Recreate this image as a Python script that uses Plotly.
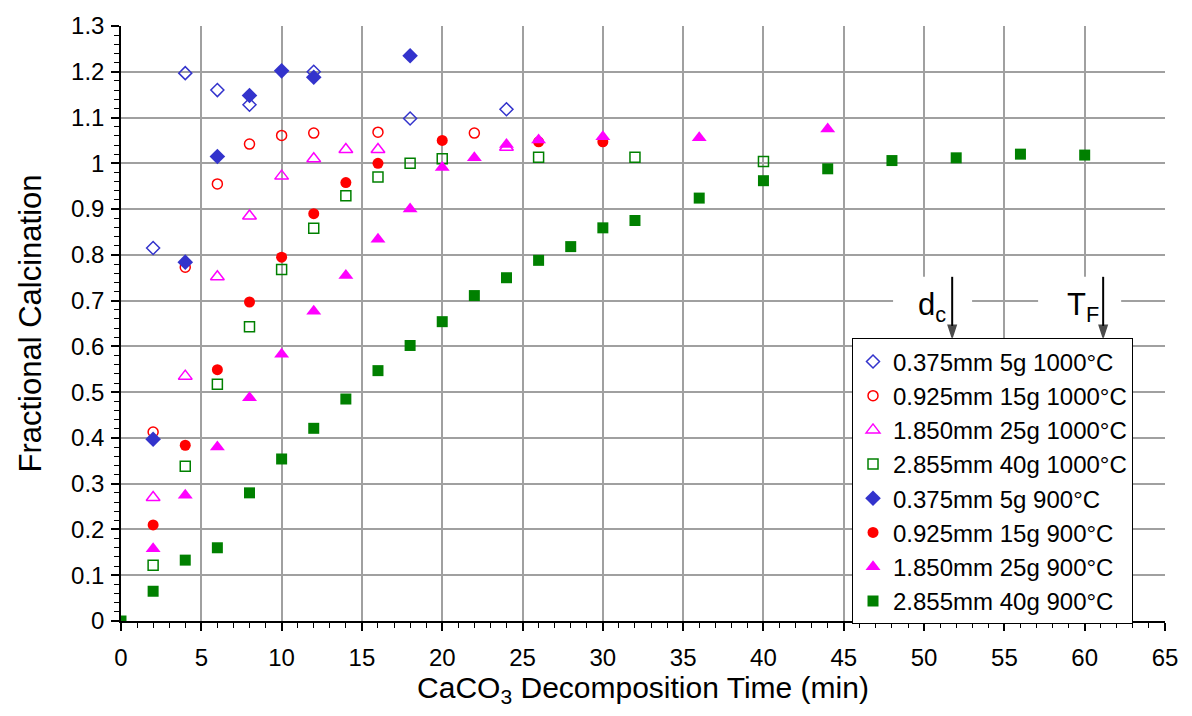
import plotly.graph_objects as go

# Fractional calcination vs CaCO3 decomposition time
t_a = [2, 4, 6, 8, 12, 18, 24]
f_a = [0.815, 1.197, 1.160, 1.128, 1.200, 1.098, 1.118]

t_b = [2, 4, 6, 8, 10, 12, 16, 22]
f_b = [0.413, 0.773, 0.955, 1.042, 1.061, 1.066, 1.068, 1.066]

t_c = [2, 4, 6, 8, 10, 12, 14, 16, 24]
f_c = [0.270, 0.535, 0.752, 0.885, 0.972, 1.010, 1.030, 1.030, 1.035]

t_d = [2, 4, 6, 8, 10, 12, 14, 16, 18, 20, 26, 32, 40]
f_d = [0.122, 0.338, 0.517, 0.643, 0.768, 0.858, 0.929, 0.970, 1.000, 1.010, 1.013, 1.013, 1.004]

t_e = [2, 4, 6, 8, 10, 12, 18]
f_e = [0.397, 0.784, 1.015, 1.148, 1.202, 1.188, 1.235]

t_f = [2, 4, 6, 8, 10, 12, 14, 16, 20, 26, 30]
f_f = [0.210, 0.384, 0.549, 0.697, 0.795, 0.890, 0.958, 1.000, 1.050, 1.047, 1.047]

t_g = [2, 4, 6, 8, 10, 12, 14, 16, 18, 20, 22, 24, 26, 30, 36, 44]
f_g = [0.158, 0.275, 0.380, 0.488, 0.583, 0.677, 0.755, 0.834, 0.900, 0.991, 1.012, 1.041, 1.051, 1.058, 1.056, 1.075]

t_h = [0, 2, 4, 6, 8, 10, 12, 14, 16, 18, 20, 22, 24, 26, 28, 30, 32, 36, 40, 44, 48, 52, 56, 60]
f_h = [0.0, 0.065, 0.133, 0.160, 0.280, 0.354, 0.421, 0.485, 0.547, 0.602, 0.654, 0.711, 0.750, 0.788,
       0.818, 0.859, 0.875, 0.924, 0.962, 0.988, 1.006, 1.012, 1.020, 1.018]

series_names = [
    "0.375mm 5g 1000°C", "0.925mm 15g 1000°C", "1.850mm 25g 1000°C", "2.855mm 40g 1000°C",
    "0.375mm 5g 900°C", "0.925mm 15g 900°C", "1.850mm 25g 900°C", "2.855mm 40g 900°C",
]

x_ticks = list(range(0, 70, 5))
y_ticks = [0, 0.1, 0.2, 0.3, 0.4, 0.5, 0.6, 0.7, 0.8, 0.9, 1.0, 1.1, 1.2, 1.3]
y_tick_text = ["0", "0.1", "0.2", "0.3", "0.4", "0.5", "0.6", "0.7", "0.8", "0.9", "1", "1.1", "1.2", "1.3"]

# arrows marking the characteristic times (time, arrow top, arrow tip)
marker_labels = ["d<sub>c</sub>", "T<sub>F</sub>"]
marker_times = [51.75, 61.15]
arrow_top = 0.752
arrow_tip = 0.617

BLUE = "#3333CC"
RED = "#FF0000"
MAGENTA = "#FF00FF"
GREEN = "#008000"
FONT = "Liberation Sans, Arial, sans-serif"

styles = [
    (t_a, f_a, "diamond-open", BLUE, 10),
    (t_b, f_b, "circle-open", RED, 10),
    (t_c, f_c, "triangle-up-open", MAGENTA, 12),
    (t_d, f_d, "square-open", GREEN, 10),
    (t_e, f_e, "diamond", BLUE, 12),
    (t_f, f_f, "circle", RED, 11),
    (t_g, f_g, "triangle-up", MAGENTA, 13),
    (t_h, f_h, "square", GREEN, 11),
]

fig = go.Figure()
for name, (xs, ys, sym, col, sz) in zip(series_names, styles):
    open_sym = sym.endswith("-open")
    fig.add_trace(go.Scatter(
        x=xs, y=ys, mode="markers", name=name,
        marker=dict(symbol=sym, color=col, size=sz,
                    line=dict(color=col, width=1.5 if open_sym else 0)),
    ))

# vertical arrows: a line with an arrowhead at its lower end
for tx in marker_times:
    fig.add_trace(go.Scatter(
        x=[tx, tx], y=[arrow_top, arrow_tip], mode="lines+markers",
        line=dict(color="black", width=2),
        marker=dict(symbol="arrow", angleref="previous", size=[0, 13], color="black",
                    line=dict(color="black", width=1.5), standoff=1),
        showlegend=False, hoverinfo="skip",
    ))

# white panels behind the labels hide the gridlines there
label_boxes = [(48.07, 52.99), (57.1, 62.27)]
for (x0, x1) in label_boxes:
    fig.add_shape(type="rect", xref="x", yref="y", x0=x0, x1=x1, y0=arrow_tip, y1=arrow_top,
                  fillcolor="white", line=dict(width=0), layer="between")

for lab, tx in zip(marker_labels, marker_times):
    fig.add_annotation(
        x=tx - 1.25, y=0.687, xref="x", yref="y", text=lab, showarrow=False,
        font=dict(family=FONT, size=31, color="black"),
    )

fig.update_layout(
    width=1192, height=716,
    margin=dict(l=121, r=27, t=23, b=95),
    paper_bgcolor="white", plot_bgcolor="white",
    font=dict(family=FONT, color="black"),
    showlegend=True,
    legend=dict(
        x=0.7002, y=0.475, xanchor="left", yanchor="top",
        bgcolor="white", bordercolor="black", borderwidth=1,
        font=dict(family=FONT, size=24, color="black"),
        tracegroupgap=0,
        itemsizing="trace",
    ),
    xaxis=dict(
        range=[0, 65], tickvals=x_ticks, ticktext=[str(v) for v in x_ticks],
        showgrid=True, gridcolor="#A0A0A0", gridwidth=1.5,
        showline=True, linecolor="black", linewidth=1.5,
        ticks="outside", ticklen=8, tickwidth=1.5, tickcolor="black",
        minor=dict(dtick=1, ticks="outside", ticklen=5, tickwidth=1, tickcolor="black", showgrid=False),
        tickfont=dict(family=FONT, size=24), ticklabelstandoff=6,
        zeroline=False,
        title=dict(text="CaCO<sub>3</sub> Decomposition Time (min)", font=dict(family=FONT, size=30), standoff=2),
    ),
    yaxis=dict(
        range=[0, 1.3], tickvals=y_ticks, ticktext=y_tick_text,
        showgrid=True, gridcolor="#A0A0A0", gridwidth=1.5,
        showline=True, linecolor="black", linewidth=1.5,
        ticks="outside", ticklen=8, tickwidth=1.5, tickcolor="black",
        minor=dict(dtick=0.02, ticks="outside", ticklen=5, tickwidth=1, tickcolor="black", showgrid=False),
        tickfont=dict(family=FONT, size=24), ticklabelstandoff=2,
        zeroline=False,
        title=dict(text="Fractional Calcination", font=dict(family=FONT, size=31), standoff=20),
    ),
)

fig.write_html("out.html")
